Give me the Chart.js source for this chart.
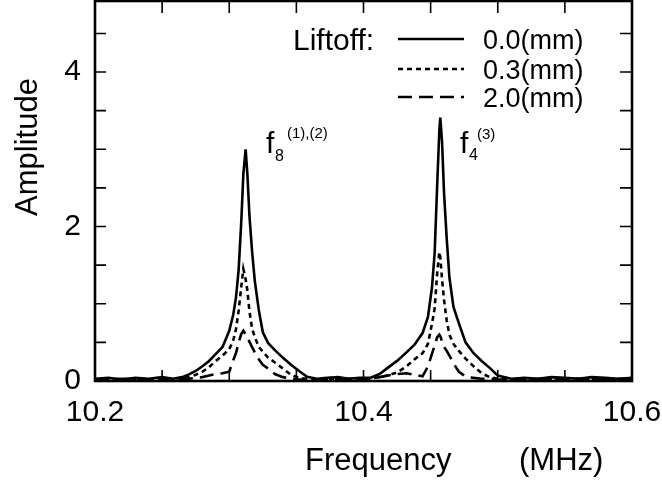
<!DOCTYPE html>
<html>
<head>
<meta charset="utf-8">
<script src="https://cdn.jsdelivr.net/npm/chart.js@4.4.0/dist/chart.umd.min.js"></script>
<style>
  html, body { margin: 0; padding: 0; background: #fff; }
  #wrap { width: 662px; height: 484px; }
</style>
</head>
<body>
<div id="wrap"><canvas id="specChart" width="662" height="484"></canvas></div>
<script>
// frequency grid (MHz), denser around the two resonances
const freqMHz = [
  10.200, 10.210, 10.220, 10.230, 10.240, 10.250, 10.258, 10.265,
  10.270, 10.275, 10.280, 10.285, 10.290, 10.295, 10.300, 10.303, 10.305, 10.307, 10.309, 10.3105, 10.3122,
  10.3135, 10.315, 10.317, 10.319, 10.322, 10.325, 10.329, 10.334, 10.340, 10.346, 10.352, 10.358,
  10.365, 10.373, 10.381, 10.389, 10.397, 10.405, 10.412,
  10.418, 10.425, 10.432, 10.438, 10.444, 10.448, 10.451, 10.453, 10.455, 10.4565, 10.4572,
  10.4585, 10.460, 10.462, 10.464, 10.467, 10.471, 10.476, 10.482, 10.488, 10.494, 10.500,
  10.510, 10.520, 10.530, 10.540, 10.550, 10.560, 10.570, 10.580, 10.590, 10.600
];

// liftoff 0.0 mm
const amp00 = [
  0.03, 0.04, 0.02, 0.04, 0.03, 0.05, 0.03, 0.05,
  0.085, 0.13, 0.19, 0.26, 0.35, 0.44, 0.65, 0.86, 1.08, 1.44, 2.08, 2.68, 3.00,
  2.68, 2.15, 1.68, 1.30, 0.92, 0.63, 0.49, 0.40, 0.30, 0.21, 0.13, 0.055,
  0.03, 0.04, 0.05, 0.03, 0.04, 0.04, 0.09,
  0.17, 0.26, 0.37, 0.47, 0.62, 0.83, 1.21, 1.66, 2.59, 3.25, 3.41,
  3.10, 2.43, 1.84, 1.34, 0.96, 0.75, 0.50, 0.36, 0.26, 0.17, 0.07,
  0.03, 0.04, 0.03, 0.05, 0.04, 0.03, 0.05, 0.04, 0.03, 0.04
];

// liftoff 0.3 mm
const amp03 = [
  0.02, 0.03, 0.02, 0.03, 0.02, 0.03, 0.03, 0.04,
  0.05, 0.08, 0.12, 0.18, 0.26, 0.33, 0.41, 0.53, 0.67, 0.91, 1.23, 1.45, 1.32,
  1.17, 0.91, 0.68, 0.57, 0.44, 0.38, 0.30, 0.24, 0.16, 0.08, 0.04, 0.03,
  0.02, 0.03, 0.02, 0.03, 0.02, 0.03, 0.05,
  0.07, 0.11, 0.19, 0.28, 0.36, 0.48, 0.74, 0.94, 1.42, 1.67, 1.60,
  1.32, 1.05, 0.78, 0.60, 0.48, 0.39, 0.29, 0.19, 0.10, 0.05, 0.03,
  0.02, 0.03, 0.02, 0.03, 0.02, 0.03, 0.02, 0.03, 0.02, 0.03
];

// liftoff 2.0 mm
const amp20 = [
  0.02, 0.02, 0.03, 0.02, 0.02, 0.03, 0.02, 0.03,
  0.03, 0.04, 0.05, 0.07, 0.09, 0.10, 0.12, 0.27, 0.36, 0.50, 0.61, 0.65, 0.60,
  0.55, 0.51, 0.44, 0.37, 0.28, 0.21, 0.16, 0.09, 0.05, 0.03, 0.02, 0.02,
  0.02, 0.03, 0.02, 0.02, 0.03, 0.03, 0.05,
  0.07, 0.09, 0.10, 0.08, 0.06, 0.19, 0.35, 0.46, 0.57, 0.60, 0.58,
  0.51, 0.44, 0.39, 0.33, 0.23, 0.12, 0.06, 0.04, 0.03, 0.03, 0.02,
  0.02, 0.02, 0.03, 0.02, 0.02, 0.03, 0.02, 0.02, 0.03, 0.02
];

const seriesLabels = ['0.0(mm)', '0.3(mm)', '2.0(mm)'];
const xTickLabels = [10.2, 10.4, 10.6];
const yTickLabels = [0, 2, 4];
const xTickMarks = [10.25, 10.3, 10.35, 10.4, 10.45, 10.5, 10.55];
const yTickMarks = [0.5, 1, 1.5, 2, 2.5, 3, 3.5, 4, 4.5];

const FONT = '"Liberation Sans", Arial, Helvetica, sans-serif';

function pts(amp) {
  return freqMHz.map((f, i) => ({ x: f, y: amp[i] }));
}

// frame plus inward tick marks on all four sides
const framePlugin = {
  id: 'frame',
  afterDraw(chart) {
    const { ctx, chartArea: a, scales } = chart;
    ctx.save();
    ctx.strokeStyle = '#000';
    ctx.lineWidth = 1.6;
    ctx.beginPath();
    xTickLabels.concat(xTickMarks).forEach(v => {
      const px = scales.x.getPixelForValue(v);
      ctx.moveTo(px, a.top); ctx.lineTo(px, a.top + 12);
      ctx.moveTo(px, a.bottom); ctx.lineTo(px, a.bottom - 11);
    });
    yTickLabels.concat(yTickMarks).forEach(v => {
      const py = scales.y.getPixelForValue(v);
      ctx.moveTo(a.left, py); ctx.lineTo(a.left + 11, py);
      ctx.moveTo(a.right, py); ctx.lineTo(a.right - 12, py);
    });
    ctx.stroke();
    ctx.lineWidth = 2.6;
    ctx.strokeRect(a.left, a.top, a.right - a.left, a.bottom - a.top);
    ctx.restore();
  }
};

// axis titles, peak labels and the liftoff key
const textPlugin = {
  id: 'texts',
  afterDraw(chart) {
    const ctx = chart.ctx;
    ctx.save();
    ctx.fillStyle = '#000';
    ctx.textBaseline = 'alphabetic';

    ctx.font = '31px ' + FONT;
    ctx.textAlign = 'left';
    ctx.fillText('Frequency', 305, 470);
    ctx.fillText('(MHz)', 519, 470);

    ctx.save();
    ctx.translate(37, 147);
    ctx.rotate(-Math.PI / 2);
    ctx.textAlign = 'center';
    ctx.fillText('Amplitude', 0, 0);
    ctx.restore();

    // peak labels
    ctx.textAlign = 'left';
    ctx.font = '30px ' + FONT;
    ctx.fillText('f', 266, 153);
    ctx.fillText('f', 460, 153);
    ctx.font = '16px ' + FONT;
    ctx.fillText('8', 275, 161);
    ctx.fillText('4', 469, 160);
    ctx.font = '15px ' + FONT;
    ctx.fillText('(1),(2)', 287, 138);
    ctx.fillText('(3)', 477, 139);

    // key
    ctx.font = '30px ' + FONT;
    ctx.fillText('Liftoff:', 293, 50);
    const rows = [39, 69, 97];
    chart.data.datasets.forEach((ds, i) => {
      ctx.save();
      ctx.strokeStyle = '#000';
      ctx.lineWidth = 2.4;
      ctx.setLineDash(ds.borderDash || []);
      ctx.beginPath();
      ctx.moveTo(398, rows[i]);
      ctx.lineTo(464, rows[i]);
      ctx.stroke();
      ctx.restore();
      ctx.font = '27px ' + FONT;
      ctx.fillText(ds.label, 483, rows[i] + 10);
    });
    ctx.restore();
  }
};

new Chart(document.getElementById('specChart'), {
  type: 'line',
  data: {
    datasets: [
      { label: seriesLabels[0], data: pts(amp00), borderDash: [] },
      { label: seriesLabels[1], data: pts(amp03), borderDash: [5, 4] },
      { label: seriesLabels[2], data: pts(amp20), borderDash: [14, 7] }
    ].map(ds => Object.assign(ds, {
      borderColor: '#000',
      borderWidth: 2.6,
      pointRadius: 0,
      tension: 0,
      fill: false
    }))
  },
  options: {
    responsive: false,
    animation: false,
    layout: { padding: { top: 1, right: 30, left: 0, bottom: 0 } },
    scales: {
      x: {
        type: 'linear',
        min: 10.2,
        max: 10.6,
        afterBuildTicks: s => { s.ticks = xTickLabels.map(v => ({ value: v })); },
        afterFit: s => { s.height = 103; s.paddingLeft = 0; s.paddingRight = 0; },
        grid: { display: false, drawTicks: false },
        border: { display: false },
        ticks: {
          color: '#000',
          padding: 14,
          maxRotation: 0,
          font: { family: FONT, size: 30 },
          callback: v => v.toFixed(1)
        }
      },
      y: {
        min: 0,
        max: 4.92,
        afterBuildTicks: s => { s.ticks = yTickLabels.map(v => ({ value: v })); },
        afterFit: s => { s.width = 95; s.paddingTop = 0; s.paddingBottom = 0; },
        grid: { display: false, drawTicks: false },
        border: { display: false },
        ticks: {
          color: '#000',
          padding: 14,
          font: { family: FONT, size: 30 },
          callback: v => String(v)
        }
      }
    },
    plugins: {
      legend: { display: false },
      tooltip: { enabled: false }
    }
  },
  plugins: [framePlugin, textPlugin]
});
</script>
</body>
</html>
